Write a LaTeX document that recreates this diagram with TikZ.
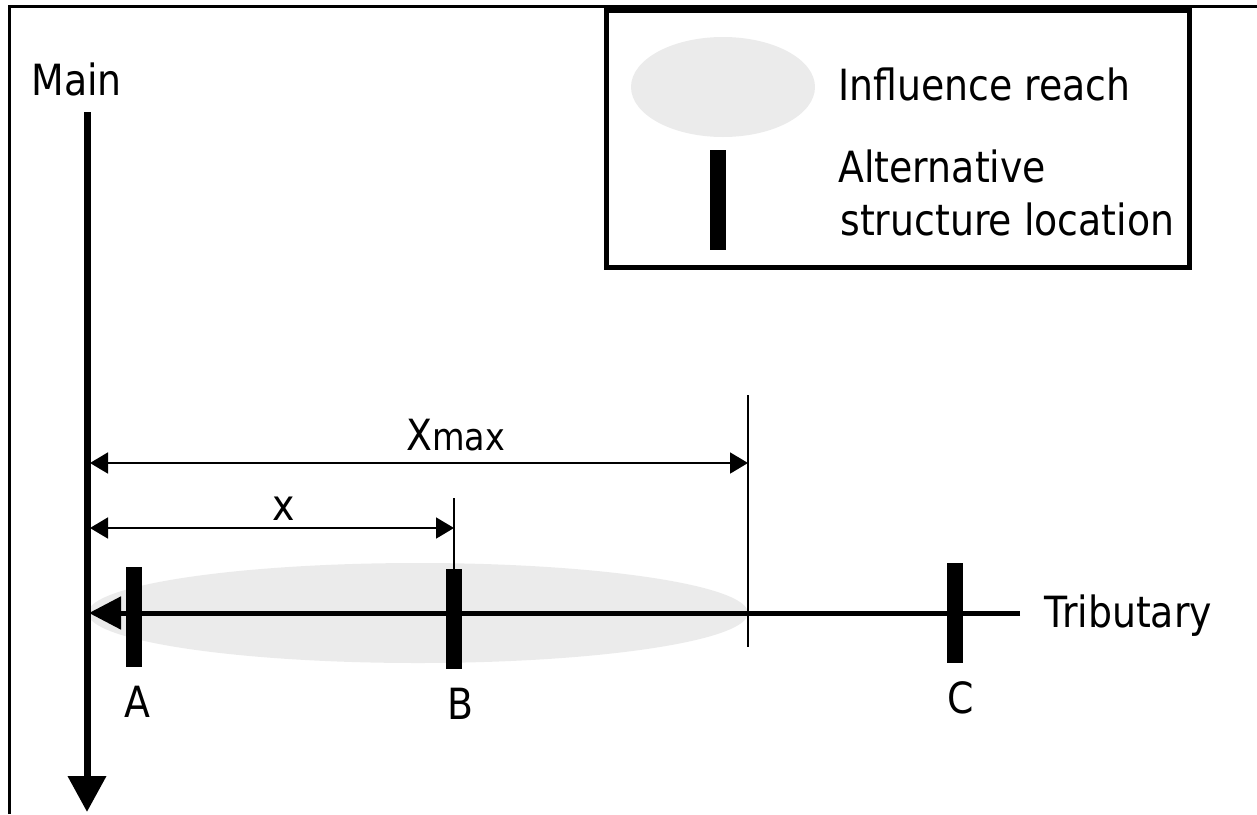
\documentclass[tikz,border=0pt]{standalone}
\usepackage{fontspec}
\setmainfont{DejaVu Sans}[FakeStretch=0.88]
\usetikzlibrary{arrows.meta,shapes.geometric}
\begin{document}
\begin{tikzpicture}[x=0.5pt,y=-0.5pt,
  lbl/.style={font=\fontsize{21.5}{25}\selectfont, inner sep=0pt},
  bar/.style={fill=black, inner sep=0pt, minimum width=8pt, minimum height=50pt},
  reach/.style={ellipse, fill=black!8, inner sep=0pt},
  dim/.style={line width=0.9pt, {Triangle[length=9pt,width=10.5pt]}-{Triangle[length=9pt,width=10.5pt]}},
  guide/.style={line width=0.9pt},
  frameline/.style={line width=1.5pt}
]
\useasboundingbox (0,0) rectangle (1257,814);
% outer frame (open at right and bottom)
\coordinate (f1) at (9,814);
\coordinate (f2) at (9,6);
\coordinate (f3) at (1257,6);
\draw[frameline] (f1) -- (f2) -- (f3);

% influence reach
\node[reach, minimum width=330pt, minimum height=50pt] (ell) at (418,613) {};

% main river
\coordinate (mtop) at (87,112);
\coordinate (mbot) at (87,812);
\draw[line width=3.5pt, -{Triangle[length=18pt,width=18.5pt]}] (mtop) -- (mbot);
\node[lbl, anchor=base west] (main) at (31,95) {Main};

% tributary
\coordinate (tend) at (1020,613);
\coordinate (junc) at (89,613);
\draw[line width=2.5pt, -{Triangle[length=16pt,width=16pt]}] (tend) -- (junc);
\node[lbl, anchor=base west] (trib) at (1044,627) {Tributary};

% structures
\node[bar] (A) at (133.5,617) {};
\node[bar] (B) at (454,619) {};
\node[bar] (C) at (955,613) {};
\node[lbl, anchor=base] (Alab) at (137,717) {A};
\node[lbl, anchor=base] (Blab) at (460,719) {B};
\node[lbl, anchor=base] (Clab) at (961,713) {C};

% guides
\coordinate (xmt) at (748,395);
\coordinate (xmb) at (748,647);
\draw[guide] (xmt) -- (xmb);
\coordinate (bt) at (454,498);
\draw[guide] (bt) -- (B.north);

% dimension arrows
\coordinate (xl1) at (90,463);
\coordinate (xr1) at (748,463);
\draw[dim] (xl1) -- (xr1);
\coordinate (xl2) at (90,528);
\coordinate (xr2) at (454,528);
\draw[dim] (xl2) -- (xr2);
\node[lbl, anchor=base west] (xmax) at (406,450) {X{\fontsize{19}{21}\selectfont max}};
\node[lbl, anchor=base] (xlab) at (284,520) {x};

% legend
\node[draw, line width=2.5pt, inner sep=0pt, minimum width=291.5pt, minimum height=128.5pt] (legend) at (897.5,138.5) {};
\node[reach, minimum width=92pt, minimum height=50pt] (lell) at (723,87) {};
\node[bar, minimum height=50pt] (lbar) at (718,200) {};
\node[lbl, anchor=base west] (t1) at (838,100) {Influence reach};
\node[lbl, anchor=base west] (t2) at (838,182) {Alternative};
\node[lbl, anchor=base west] (t3) at (840,235) {structure location};
\end{tikzpicture}
\end{document}
